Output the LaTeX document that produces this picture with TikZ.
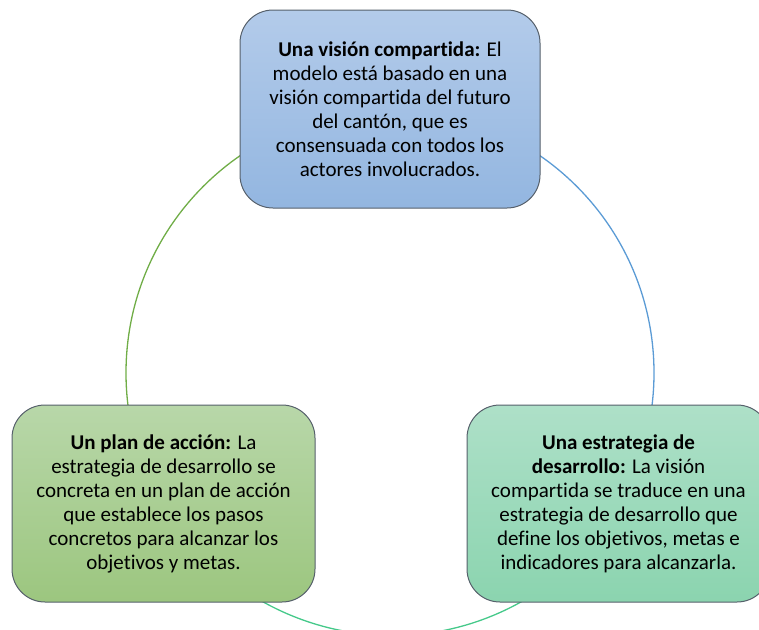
\documentclass[tikz,border=0pt]{standalone}
\usepackage{fontspec}
\setmainfont{Carlito}[Ligatures=NoCommon]
\usetikzlibrary{backgrounds}
\definecolor{bordergray}{HTML}{56606B}
\definecolor{bluetop}{HTML}{B3CBEA}
\definecolor{bluebot}{HTML}{93B6E0}
\definecolor{greentop}{HTML}{B8D7A9}
\definecolor{greenbot}{HTML}{9CC67F}
\definecolor{tealtop}{HTML}{AEE0C8}
\definecolor{tealbot}{HTML}{8BD4AF}
\definecolor{arcgreen}{HTML}{70AD47}
\definecolor{arcblue}{HTML}{5B9BD5}
\definecolor{arcteal}{HTML}{45C98A}
\tikzset{
  cyclebox/.style={draw=bordergray, line width=1pt, rounded corners=33pt,
    minimum width=300pt, minimum height=198pt, align=center, inner sep=0pt,
    font=\fontsize{21}{24}\selectfont, text=black},
  cyclearc/.style={line width=1.3pt}
}
\begin{document}
\begin{tikzpicture}[x=1pt,y=1pt]
\useasboundingbox (0,0) rectangle (759,-629);
\clip (0,0) rectangle (759,-629);
% nodes
\node[cyclebox, top color=bluetop, bottom color=bluebot] (vision) at (390,-109)
  {\textbf{Una visión compartida:} El\\modelo está basado en una\\visión compartida del futuro\\del cantón, que es\\consensuada con todos los\\actores involucrados.};
\node[cyclebox, minimum width=303pt, minimum height=197pt, top color=greentop, bottom color=greenbot] (plan) at (163.5,-503.5)
  {\textbf{Un plan de acción:} La\\estrategia de desarrollo se\\concreta en un plan de acción\\que establece los pasos\\concretos para alcanzar los\\objetivos y metas.};
\node[cyclebox, minimum width=303pt, minimum height=197pt, top color=tealtop, bottom color=tealbot] (estrategia) at (618.5,-503.5)
  {\textbf{Una estrategia de}\\\textbf{desarrollo:} La visión\\compartida se traduce en una\\estrategia de desarrollo que\\define los objetivos, metas e\\indicadores para alcanzarla.};
% arcs (drawn behind the boxes)
\begin{scope}[on background layer]
\draw[cyclearc, arcgreen] (vision.center) arc[start angle=90, end angle=210, radius=264];
\draw[cyclearc, arcblue] (vision.center) arc[start angle=90, end angle=-30, radius=264];
\draw[cyclearc, arcteal] (plan.center) arc[start angle=210, end angle=330, radius=264];
\end{scope}
\end{tikzpicture}
\end{document}
